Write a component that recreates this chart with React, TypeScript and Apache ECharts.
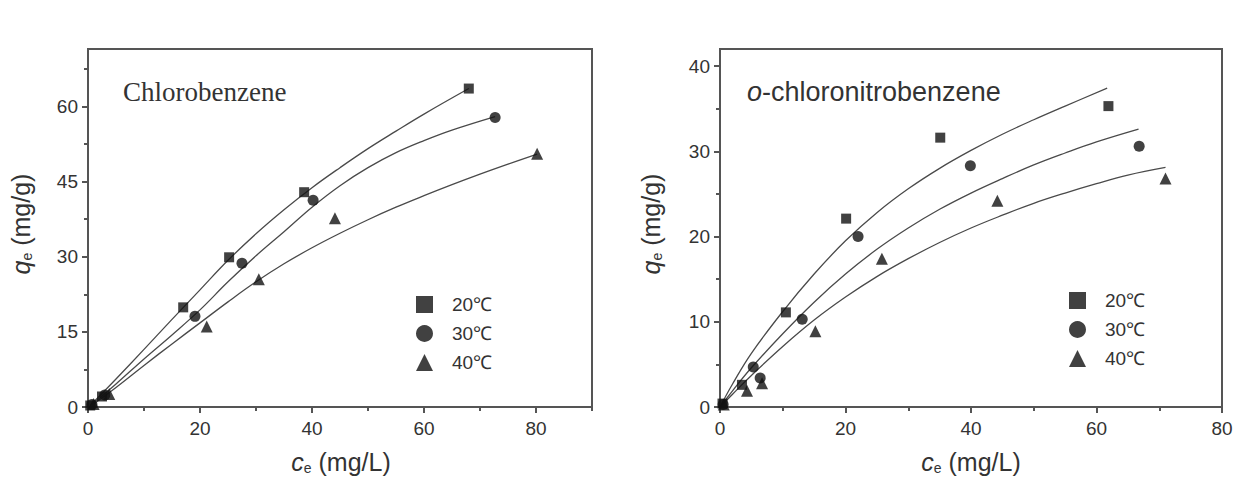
import React, { useEffect, useRef } from "react";
import * as echarts from "echarts";

// ---------- Chlorobenzene (left) ----------
const cbXTicks = [0, 20, 40, 60, 80];
const cbXMinor = [10, 30, 50, 70, 90];
const cbYTicks = [0, 15, 30, 45, 60];
const cbYMinor = [7.5, 22.5, 37.5, 52.5, 67.5];

const cb20Pts = [[0.4, 0.3], [2.5, 2.1], [17.0, 19.9], [25.2, 29.9], [38.6, 42.9], [68.0, 63.6]];
const cb30Pts = [[0.7, 0.5], [3.0, 2.4], [19.1, 18.1], [27.5, 28.7], [40.2, 41.3], [72.7, 57.8]];
const cb40Pts = [[1.0, 0.6], [3.8, 2.6], [21.2, 16.1], [30.5, 25.5], [44.1, 37.7], [80.2, 50.6]];

const cb20Fit = [[0.4, 0.3], [5, 5.6], [10, 11.5], [15, 17.5], [20, 23.4], [25, 29.3], [30, 34.6], [35, 39.4], [40, 43.8], [45, 47.8], [50, 51.6], [55, 55.1], [60, 58.5], [68, 63.6]];
const cb30Fit = [[0.7, 0.5], [5, 4.6], [10, 9.6], [15, 14.4], [20, 19.4], [25, 25.0], [30, 30.2], [35, 35.0], [40, 39.9], [45, 44.2], [50, 47.8], [55, 50.8], [60, 53.2], [65, 55.3], [72.7, 58.0]];
const cb40Fit = [[1, 0.6], [5, 3.9], [10, 8.3], [15, 12.6], [20, 16.8], [25, 21.0], [30, 25.0], [35, 28.6], [40, 31.8], [45, 34.7], [50, 37.4], [55, 39.9], [60, 42.2], [65, 44.4], [70, 46.5], [75, 48.5], [80.2, 50.5]];

// ---------- o-chloronitrobenzene (right) ----------
const ocXTicks = [0, 20, 40, 60, 80];
const ocXMinor = [10, 30, 50, 70];
const ocYTicks = [0, 10, 20, 30, 40];
const ocYMinor = [5, 15, 25, 35];

const oc20Pts = [[0.4, 0.4], [3.5, 2.6], [10.5, 11.1], [20.1, 22.1], [35.1, 31.6], [61.9, 35.3]];
const oc30Pts = [[0.5, 0.3], [5.3, 4.7], [6.4, 3.4], [13.1, 10.3], [22.0, 20.0], [39.9, 28.3], [66.8, 30.6]];
const oc40Pts = [[0.6, 0.3], [4.3, 1.9], [6.7, 2.8], [15.2, 8.9], [25.8, 17.4], [44.2, 24.2], [71.0, 26.8]];

const oc20Fit = [[0, 0], [2, 2.7], [5, 6.3], [10, 11.2], [15, 15.6], [20, 19.5], [25, 22.8], [30, 25.6], [35, 28.0], [40, 30.1], [45, 32.0], [50, 33.7], [55, 35.3], [61.7, 37.4]];
const oc30Fit = [[0, 0], [2, 1.9], [5, 4.6], [10, 8.6], [15, 12.3], [20, 15.6], [25, 18.5], [30, 21.0], [35, 23.2], [40, 25.1], [45, 26.8], [50, 28.4], [55, 29.8], [60, 31.1], [66.7, 32.6]];
const oc40Fit = [[0, 0], [2, 1.5], [5, 3.7], [10, 7.1], [15, 10.2], [20, 12.9], [25, 15.3], [30, 17.4], [35, 19.3], [40, 21.0], [45, 22.5], [50, 23.9], [55, 25.1], [60, 26.2], [65, 27.2], [71, 28.1]];

const legendNames = ["20℃", "30℃", "40℃"];
const symbols = ["rect", "circle", "triangle"];
const symbolSizes = [10, 11, 12];

const AXIS_COLOR = "#555";
const TEXT_COLOR = "#333";
const FONT = "Liberation Sans, Arial, sans-serif";

function mainAxis(gridIndex: number, max: number, ticks: number[], isY: boolean) {
  return {
    type: "value",
    gridIndex,
    min: 0,
    max,
    position: isY ? "left" : "bottom",
    axisLine: { show: true, lineStyle: { color: AXIS_COLOR, width: 2 } },
    axisTick: { show: true, length: 6, customValues: ticks, lineStyle: { color: AXIS_COLOR, width: 2 } },
    axisLabel: { show: true, customValues: ticks, fontSize: 19, color: TEXT_COLOR, fontFamily: FONT, margin: isY ? 10 : 12 },
    splitLine: { show: false },
  };
}

function minorAxis(gridIndex: number, max: number, ticks: number[], isY: boolean) {
  return {
    type: "value",
    gridIndex,
    min: 0,
    max,
    position: isY ? "left" : "bottom",
    offset: 0,
    axisLine: { show: false },
    axisTick: { show: true, length: 4, customValues: ticks, lineStyle: { color: AXIS_COLOR, width: 2 } },
    axisLabel: { show: false },
    splitLine: { show: false },
  };
}

function fitSeries(data: number[][], axisIdx: number) {
  return {
    type: "line",
    name: "fit",
    xAxisIndex: axisIdx,
    yAxisIndex: axisIdx,
    data,
    symbol: "none",
    smooth: 0.4,
    silent: true,
    lineStyle: { color: "#4a4a4a", width: 1.3 },
    z: 2,
  };
}

function ptSeries(data: number[][], axisIdx: number, i: number) {
  return {
    type: "scatter",
    name: legendNames[i],
    xAxisIndex: axisIdx,
    yAxisIndex: axisIdx,
    data,
    symbol: symbols[i],
    symbolSize: symbolSizes[i],
    itemStyle: { color: "#111" },
    z: 3,
  };
}

function legendAt(left: number, top: number) {
  return {
    left,
    top,
    orient: "vertical",
    data: legendNames,
    selectedMode: false,
    itemWidth: 17,
    itemHeight: 17,
    itemGap: 10,
    textStyle: { fontSize: 19, color: TEXT_COLOR, fontFamily: FONT, padding: [0, 0, 0, 14] },
  };
}

const richName = {
  i: { fontStyle: "italic", fontSize: 25, fontFamily: FONT, color: TEXT_COLOR },
  s: { fontSize: 14, fontFamily: FONT, color: TEXT_COLOR, verticalAlign: "bottom", padding: [12, 0, 0, 0] },
  n: { fontSize: 25, fontFamily: FONT, color: TEXT_COLOR },
};

function nameText(x: number, y: number, text: string, rotation: number) {
  return {
    type: "text",
    x,
    y,
    rotation,
    style: {
      text,
      rich: richName,
      fontSize: 25,
      fontFamily: FONT,
      fill: TEXT_COLOR,
      align: "center",
      verticalAlign: "middle",
    },
  };
}

export default function App() {
  const ref = useRef<HTMLDivElement>(null);
  useEffect(() => {
    if (!ref.current) return;
    const chart = echarts.init(ref.current, undefined, { renderer: "svg" });
    chart.setOption({
      animation: false,
      backgroundColor: "#fff",
      grid: [
        { left: 88, top: 49, width: 504, height: 358, show: true, borderColor: AXIS_COLOR, borderWidth: 2 },
        { left: 720, top: 49, width: 502, height: 358, show: true, borderColor: AXIS_COLOR, borderWidth: 2 },
      ],
      xAxis: [
        mainAxis(0, 90, cbXTicks, false),
        minorAxis(0, 90, cbXMinor, false),
        mainAxis(1, 80, ocXTicks, false),
        minorAxis(1, 80, ocXMinor, false),
      ],
      yAxis: [
        mainAxis(0, 71.5, cbYTicks, true),
        minorAxis(0, 71.5, cbYMinor, true),
        mainAxis(1, 42, ocYTicks, true),
        minorAxis(1, 42, ocYMinor, true),
      ],
      legend: [legendAt(411, 290), legendAt(1064, 286)],
      series: [
        fitSeries(cb20Fit, 0),
        fitSeries(cb30Fit, 0),
        fitSeries(cb40Fit, 0),
        ptSeries(cb20Pts, 0, 0),
        ptSeries(cb30Pts, 0, 1),
        ptSeries(cb40Pts, 0, 2),
        fitSeries(oc20Fit, 2),
        fitSeries(oc30Fit, 2),
        fitSeries(oc40Fit, 2),
        ptSeries(oc20Pts, 2, 0),
        ptSeries(oc30Pts, 2, 1),
        ptSeries(oc40Pts, 2, 2),
      ],
      graphic: [
        {
          type: "text",
          x: 123,
          y: 92,
          style: { text: "Chlorobenzene", fontSize: 27, fontFamily: "Liberation Serif, Times New Roman, serif", fill: TEXT_COLOR, align: "left", verticalAlign: "middle" },
        },
        {
          type: "text",
          x: 747,
          y: 92,
          style: {
            text: "{i|o}{n|-chloronitrobenzene}",
            rich: {
              i: { fontStyle: "italic", fontSize: 27, fontFamily: FONT, color: TEXT_COLOR },
              n: { fontSize: 27, fontFamily: FONT, color: TEXT_COLOR },
            },
            fontSize: 27,
            fontFamily: FONT,
            fill: TEXT_COLOR,
            align: "left",
            verticalAlign: "middle",
          },
        },
        nameText(21, 224, "{i|q}{s|e}{n| (mg/g)}", Math.PI / 2),
        nameText(651, 224, "{i|q}{s|e}{n| (mg/g)}", Math.PI / 2),
        nameText(341, 462, "{i|c}{s|e}{n| (mg/L)}", 0),
        nameText(971, 462, "{i|c}{s|e}{n| (mg/L)}", 0),
      ],
    });
    return () => chart.dispose();
  }, []);
  return (
    <div
      ref={ref}
      style={{ position: "fixed", left: 0, top: 0, width: 1239, height: 481, background: "#fff" }}
    />
  );
}
